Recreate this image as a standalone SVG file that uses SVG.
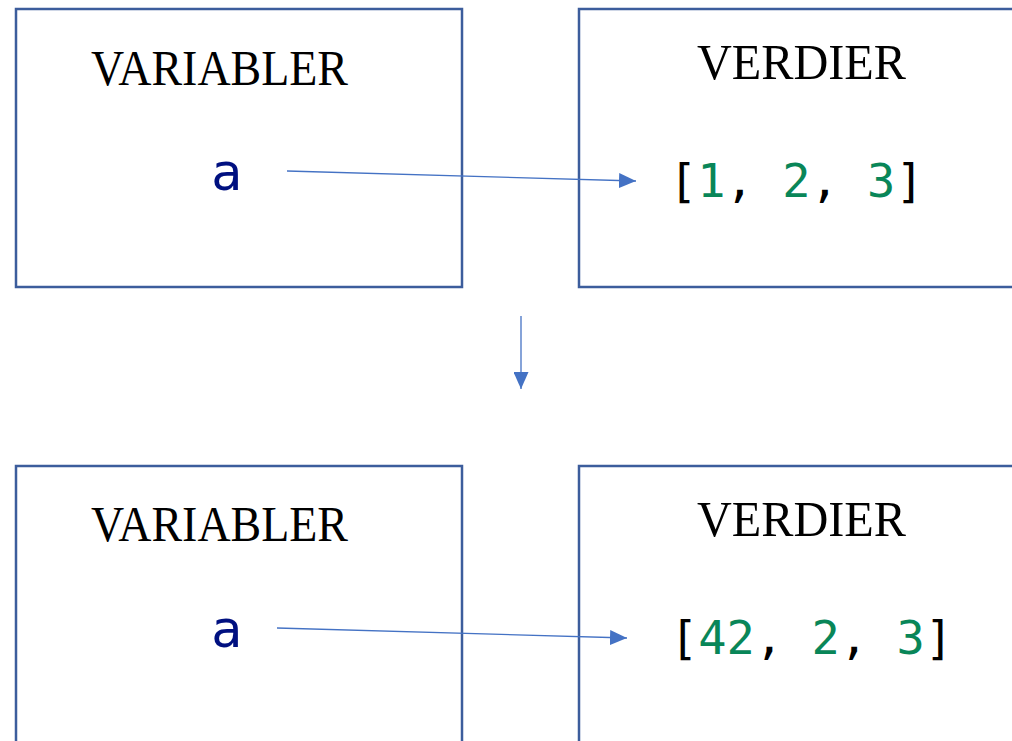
<svg xmlns="http://www.w3.org/2000/svg" width="1012" height="741" viewBox="0 0 1012 741">
  <style>
    .box { fill: #ffffff; stroke: #3C5D9C; stroke-width: 2.5; }
    .head { font-family: "Liberation Serif", serif; font-size: 50px; fill: #000000; }
    .code { font-family: "DejaVu Sans Mono", monospace; font-size: 47px; fill: #000000; white-space: pre; }
    .var { fill: #001080; font-size: 52px; }
    .num { fill: #098658; }
    .conn { stroke: #4472C4; stroke-width: 1.3; fill: none; }
  </style>
  <defs>
    <marker id="arrow" viewBox="0 0 17 15" refX="17" refY="7.5" markerWidth="17" markerHeight="15" markerUnits="userSpaceOnUse" orient="auto">
      <path d="M0,0 L17,7.5 L0,15 Z" fill="#4472C4"/>
    </marker>
  </defs>
  <rect width="1012" height="741" fill="#ffffff"/>

  <g id="vars-before">
    <rect class="box" x="16" y="9" width="446" height="278"/>
    <text class="head" x="91" y="85" textLength="257" lengthAdjust="spacingAndGlyphs">VARIABLER</text>
    <text class="code var" x="211" y="190">a</text>
  </g>

  <g id="values-before">
    <rect class="box" x="579" y="9" width="450" height="278"/>
    <text class="head" x="697" y="79" textLength="209" lengthAdjust="spacingAndGlyphs">VERDIER</text>
    <text class="code" x="669" y="197" xml:space="preserve">[<tspan class="num">1</tspan>, <tspan class="num">2</tspan>, <tspan class="num">3</tspan>]</text>
  </g>

  <g id="vars-after">
    <rect class="box" x="16" y="466" width="446" height="290"/>
    <text class="head" x="91" y="541" textLength="257" lengthAdjust="spacingAndGlyphs">VARIABLER</text>
    <text class="code var" x="211" y="647">a</text>
  </g>

  <g id="values-after">
    <rect class="box" x="579" y="466" width="450" height="290"/>
    <text class="head" x="697" y="536" textLength="209" lengthAdjust="spacingAndGlyphs">VERDIER</text>
    <text class="code" x="670" y="654" xml:space="preserve">[<tspan class="num">42</tspan>, <tspan class="num">2</tspan>, <tspan class="num">3</tspan>]</text>
  </g>

  <g id="connectors">
    <line class="conn" x1="287" y1="171" x2="636" y2="181" marker-end="url(#arrow)"/>
    <line class="conn" x1="521" y1="316" x2="521" y2="389" marker-end="url(#arrow)"/>
    <line class="conn" x1="277" y1="628" x2="627" y2="638" marker-end="url(#arrow)"/>
  </g>
</svg>
